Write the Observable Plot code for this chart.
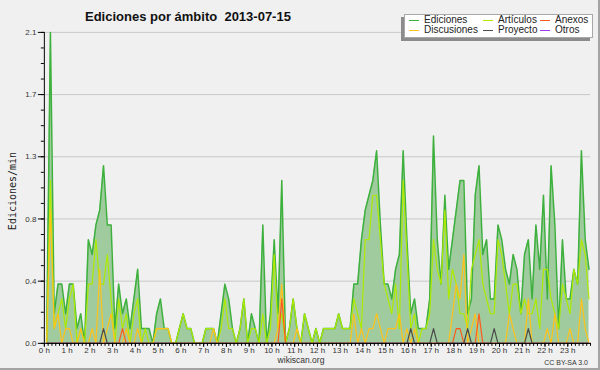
<!DOCTYPE html>
<html>
<head>
<meta charset="utf-8">
<script src="https://cdn.jsdelivr.net/npm/d3@7"></script>
<script src="https://cdn.jsdelivr.net/npm/@observablehq/plot@0.6"></script>
<style>
  html, body { margin: 0; padding: 0; background: #F0F0F0; }
  #wrap { position: relative; width: 600px; height: 370px; overflow: hidden; background: #F0F0F0;
          font-family: "Liberation Sans", Arial, sans-serif; box-sizing: border-box;
          border-right: 2px solid #A4A4A4; border-bottom: 2px solid #A4A4A4; }
  #wrap svg { position: absolute; left: 0; top: 0; }
  .title { position: absolute; left: 85px; top: 10px; font-size: 13px; line-height: 13px; font-weight: bold; color: #111; white-space: pre; }
  .ylab { position: absolute; left: 12px; top: 191px; transform: translate(-50%, -50%) rotate(-90deg);
          font-family: "DejaVu Sans Mono", monospace; font-size: 10px; color: #222; white-space: nowrap; }
  .legend { position: absolute; left: 404px; top: 14px; width: 189px; height: 24px; background: #fff;
            border: 1px solid #A8A8A8; box-sizing: border-box; box-shadow: -3px 3px 0 #8C8C8C; }
  .li { position: absolute; font-size: 10px; line-height: 10px; color: #222; white-space: nowrap; }
  .sw { position: absolute; width: 10px; height: 1px; }
  .site { position: absolute; left: 301px; top: 356px; transform: translateX(-50%); font-size: 8.5px; line-height: 9px; color: #333; }
  .lic { position: absolute; right: 10px; top: 359px; font-size: 7px; line-height: 7px; color: #333; }
</style>
</head>
<body>
<div id="wrap"></div>
<script>
// ---- data (10-minute samples, 15 July 2013) ----
const seriesNames = ["Ediciones", "Artículos", "Anexos", "Discusiones", "Proyecto", "Otros"];
const seriesColors = ["#3DB03D", "#AEEA00", "#FF5A1E", "#FFC21A", "#4A4A4A", "#9A3DF0"];

const ediciones = [0,2.1,0.2,0.4,0.4,0.2,0.4,0.4,0.1,0.2,
 0,0.7,0.6,0.8,0.9,1.2,0.8,0.8,0.1,0.4,
 0.2,0.3,0.1,0.3,0.5,0.1,0.1,0.1,0,0.2,
 0.3,0.1,0.1,0,0,0.1,0.2,0.1,0.1,0,
 0,0,0.1,0.1,0.1,0,0.2,0.4,0.3,0.1,
 0,0.1,0.3,0,0.2,0.1,0,0.8,0,0.2,
 0.7,0.2,1.1,0,0.1,0.3,0.1,0,0.2,0.1,
 0,0.1,0,0.1,0.1,0.1,0.1,0.2,0.1,0.1,
 0.1,0.4,0.4,0.7,0.9,1.0,1.1,1.3,0.8,0.4,
 0.4,0.3,0.5,0.6,1.3,0.7,0.2,0.3,0.1,0.1,
 0.1,0.3,1.4,0.7,0.4,1.0,0.5,0.7,0.9,1.1,
 1.1,0.2,0.3,1.0,1.2,0.6,0.7,0.3,0.3,0.8,
 0.7,0.5,0.4,0.6,0.5,0.2,0.6,0.7,0.3,0.8,
 0.5,1.0,0.3,1.2,0.8,0.1,0.7,0.3,0.3,0.5,
 0.4,1.3,0.7,0.5];

const articulos = [0,1.1,0.1,0.2,0.3,0.1,0.3,0.4,0,0.1,
 0,0.4,0.4,0.7,0.4,0.4,0.6,0.3,0,0.3,
 0.1,0.2,0,0.2,0.3,0,0.1,0,0,0.1,
 0.1,0.1,0.1,0,0,0.1,0.2,0.1,0.1,0,
 0,0,0.1,0.1,0.1,0,0.1,0.3,0.1,0.1,
 0,0.1,0.3,0,0.1,0.1,0,0.2,0,0.1,
 0.6,0.1,0.2,0,0.1,0.3,0.1,0,0.2,0.1,
 0,0.1,0,0.1,0.1,0.1,0.1,0.2,0.1,0.1,
 0.1,0.3,0.2,0.1,0.7,0.7,1.0,1.0,0.7,0.4,
 0.3,0.2,0.4,0.1,1.1,0.6,0.1,0.2,0,0.1,
 0.1,0.2,0.7,0.5,0.4,0.9,0.3,0.5,0.4,0.2,
 0.2,0.1,0.5,0.6,0.7,0.4,0.3,0.2,0.2,0.7,
 0.6,0.4,0.2,0.4,0.4,0.2,0.3,0.2,0.2,0.3,
 0.1,0.5,0.5,0.3,0.2,0.1,0.4,0.3,0.2,0.5,
 0.4,0.7,0.6,0.3];

const discusiones = [0,0.9,0.1,0.2,0,0.1,0.1,0,0,0.1,
 0,0,0.1,0,0.5,0,0.1,0.2,0,0,
 0,0.1,0,0,0.1,0,0,0,0,0.1,
 0.1,0.1,0.1,0,0,0,0,0,0,0,
 0,0,0,0,0.1,0,0,0,0,0,
 0,0,0,0,0,0,0,0,0,0,
 0,0.1,0.4,0,0,0,0.1,0,0,0,
 0,0,0,0,0,0,0,0,0,0,
 0,0.2,0,0.1,0,0.1,0.1,0.2,0.1,0,
 0.1,0.1,0.1,0.2,0,0.1,0,0.1,0,0,
 0,0,0,0,0,0,0,0.2,0.4,0.3,
 0.6,0,0.1,0.2,0,0,0,0,0,0,
 0,0,0.2,0.1,0,0,0,0.3,0,0,
 0,0,0.1,0,0.2,0,0,0,0.1,0,
 0,0.3,0.1,0];

const anexos = [0,0,0,0,0,0,0,0,0,0,
 0,0,0,0,0,0,0,0,0,0,
 0.1,0,0,0,0,0,0,0,0,0,
 0,0,0,0,0,0,0,0,0,0,
 0,0,0,0,0,0,0,0,0,0,
 0,0,0,0,0,0,0,0,0,0,
 0,0,0.3,0,0,0,0,0,0,0,
 0,0,0,0,0,0,0,0,0,0,
 0,0,0,0,0,0,0,0,0,0,
 0,0,0,0,0,0,0,0,0,0,
 0,0,0,0,0,0,0,0,0.1,0.1,
 0,0,0,0,0.2,0,0,0,0,0,
 0,0,0,0,0,0,0,0,0,0,
 0,0,0,0,0,0,0,0,0,0,
 0,0,0,0];

const proyecto = [0,0,0,0,0,0,0,0,0,0,
 0,0,0,0,0,0.1,0,0,0,0,
 0,0,0,0,0,0,0,0,0,0,
 0,0,0,0,0,0,0,0,0,0,
 0,0,0,0,0,0,0,0,0,0,
 0,0,0,0,0,0,0,0,0,0,
 0,0,0,0,0,0,0,0,0,0,
 0,0,0,0,0,0,0,0,0,0,
 0,0,0,0,0,0,0,0,0,0,
 0,0,0,0,0,0,0.1,0,0,0,
 0,0,0.1,0,0,0,0,0,0,0,
 0,0.1,0,0,0,0,0,0,0.1,0,
 0,0,0,0,0,0,0,0.1,0,0,
 0,0,0,0,0,0,0,0,0,0,
 0,0,0,0];

const otros = new Array(144).fill(0);

const hourLabels = ["0 h","1 h","2 h","3 h","4 h","5 h","6 h","7 h","8 h","9 h","10 h","11 h",
                    "12 h","13 h","14 h","15 h","16 h","17 h","18 h","19 h","20 h","21 h","22 h","23 h"];
const yMax = 2.1;

// ---- build table ----
const values = [ediciones, articulos, anexos, discusiones, proyecto, otros];
const rows = ediciones.map((v, i) => ({t: i / 6 + 0.1, ed: v}));
const lineData = [];
// draw order: Ediciones, Artículos, Discusiones, Anexos, Proyecto, Otros  (Otros first so it hides under axis)
const order = [5, 0, 1, 3, 2, 4];
for (const s of order) {
  values[s].forEach((v, i) => lineData.push({t: i / 6 + 0.1, v, s: seriesNames[s], o: order.indexOf(s)}));
}

const yMajor = d3.range(0, 6).map(i => yMax * i / 5);
const yMinor = d3.range(0, 21).map(i => yMax * i / 20);
const xMajor = hourLabels.map((_, i) => i);
const xMinor = d3.range(0, 145).map(i => i / 6);

const chart = Plot.plot({
  width: 600, height: 370,
  marginLeft: 44, marginRight: 8, marginTop: 32, marginBottom: 26,
  style: {background: "transparent", fontFamily: "'Liberation Sans', Arial, sans-serif", fontSize: "7.5px", color: "#222"},
  x: {domain: [0, 24], axis: null},
  y: {domain: [0, yMax], axis: null},
  color: {domain: seriesNames, range: seriesColors},
  marks: [
    Plot.gridY(yMajor, {stroke: "#C8C8C8", strokeOpacity: 1}),
    Plot.areaY(rows, {x: "t", y: "ed", fill: "#9FCB9F", fillOpacity: 1}),
    ...order.map(s => Plot.lineY(lineData.filter(d => d.s === seriesNames[s]),
      {x: "t", y: "v", stroke: seriesColors[s], strokeWidth: s === 0 ? 1.5 : 1.2})),
    Plot.axisY(yMinor, {anchor: "left", tickSize: 3, tickFormat: () => "", label: null, stroke: "#000"}),
    Plot.axisY(yMajor, {anchor: "left", tickSize: 6, tickPadding: 2, tickFormat: d => d.toFixed(1), label: null, stroke: "#000", fill: "#333", fontSize: 8}),
    Plot.axisX(xMinor, {anchor: "bottom", tickSize: 3, tickFormat: () => "", label: null, stroke: "#000"}),
    Plot.axisX(xMajor, {anchor: "bottom", tickSize: 4, tickPadding: 0, tickFormat: i => hourLabels[i], label: null, stroke: "#000", fill: "#333", fontSize: 8}),
    Plot.ruleY([0], {stroke: "#000", strokeWidth: 1}),
    Plot.ruleX([0], {stroke: "#000", strokeWidth: 1})
  ]
});

const wrap = document.getElementById("wrap");
wrap.appendChild(chart);

function addDiv(cls, text, style) {
  const d = document.createElement("div");
  d.className = cls;
  if (text != null) d.textContent = text;
  if (style) Object.assign(d.style, style);
  wrap.appendChild(d);
  return d;
}
addDiv("title", "Ediciones por ámbito  2013-07-15");
addDiv("ylab", "Ediciones/min");
const leg = addDiv("legend", null);
// legend layout: 3 columns x 2 rows
const legendOrder = [0, 1, 2, 3, 4, 5];
const colX = [4, 78, 135];
const rowY = [5, 15];
legendOrder.forEach((s, k) => {
  const c = k % 3, r = Math.floor(k / 3);
  const sw = document.createElement("div");
  sw.className = "sw";
  Object.assign(sw.style, {left: colX[c] + "px", top: (rowY[r] + 0) + "px", background: seriesColors[s]});
  leg.appendChild(sw);
  const t = document.createElement("div");
  t.className = "li";
  t.textContent = seriesNames[s];
  Object.assign(t.style, {left: (colX[c] + 15) + "px", top: (rowY[r] - 5) + "px"});
  leg.appendChild(t);
});
addDiv("site", "wikiscan.org");
addDiv("lic", "CC BY-SA 3.0");
</script>
</body>
</html>
